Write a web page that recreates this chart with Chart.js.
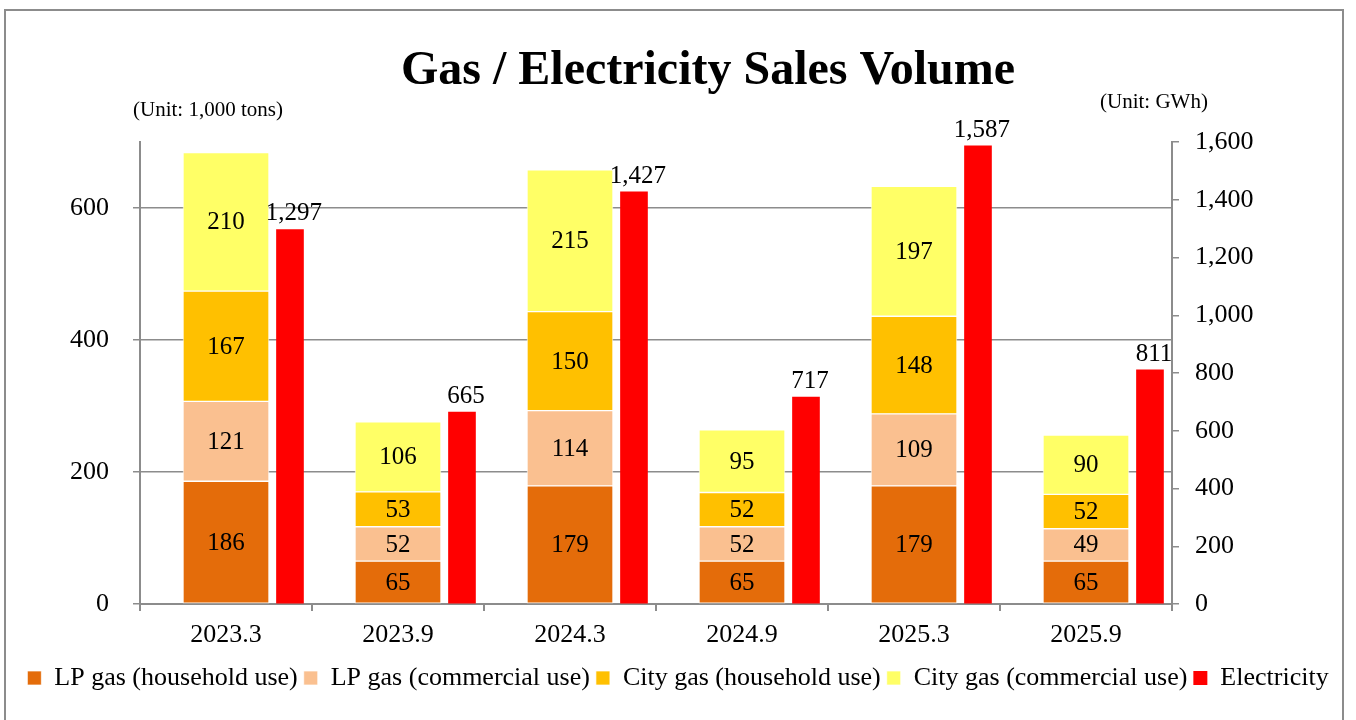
<!DOCTYPE html>
<html>
<head>
<meta charset="utf-8">
<script src="https://cdn.jsdelivr.net/npm/chart.js@4.4.1/dist/chart.umd.min.js"></script>
<style>
  html, body { margin: 0; padding: 0; background: #fff; overflow: hidden; }
  canvas { display: block; }
</style>
</head>
<body>
<canvas id="salesChart" width="1356" height="720"></canvas>
<script>
// Data
const periods = ["2023.3", "2023.9", "2024.3", "2024.9", "2025.3", "2025.9"];
const lpHousehold = [186, 65, 179, 65, 179, 65];
const lpCommercial = [121, 52, 114, 52, 109, 49];
const cityHousehold = [167, 53, 150, 52, 148, 52];
const cityCommercial = [210, 106, 215, 95, 197, 90];
const electricity = [1297, 665, 1427, 717, 1587, 811];
const leftTicks = [0, 200, 400, 600];
const rightTicks = [0, 200, 400, 600, 800, 1000, 1200, 1400, 1600];

const serif = "'Liberation Serif', 'Times New Roman', serif";
const gray = "#8c8c8c";

// electricity bars sit to the right of the gas stack
const elecShift = chart => {
  const x = chart.scales.x;
  return (x.right - x.left) / periods.length * 0.372;
};

const framePlugin = {
  id: "frame",
  beforeDraw(chart) {
    const { ctx } = chart;
    ctx.save();
    ctx.fillStyle = "#fff";
    ctx.fillRect(0, 0, chart.width, chart.height);
    ctx.strokeStyle = gray;
    ctx.lineWidth = 2;
    ctx.strokeRect(5, 10, 1338, 720);
    ctx.restore();
  },
  afterDraw(chart) {
    const { ctx } = chart;
    ctx.save();
    ctx.fillStyle = "#000";
    ctx.textAlign = "center";
    ctx.textBaseline = "alphabetic";
    ctx.font = "bold 48px " + serif;
    ctx.fillText("Gas / Electricity Sales Volume", 708, 84);
    ctx.font = "21px " + serif;
    ctx.textAlign = "left";
    ctx.fillText("(Unit: 1,000 tons)", 133, 116);
    ctx.fillText("(Unit: GWh)", 1100, 108);
    ctx.restore();
  }
};

const shiftPlugin = {
  id: "shiftElec",
  beforeDatasetDraw(chart, args) {
    if (args.meta.yAxisID !== "y1") return;
    chart.ctx.save();
    chart.ctx.translate(elecShift(chart), 0);
  },
  afterDatasetDraw(chart, args) {
    if (args.meta.yAxisID !== "y1") return;
    chart.ctx.restore();
  }
};

const labelPlugin = {
  id: "valueLabels",
  afterDatasetsDraw(chart) {
    const { ctx } = chart;
    ctx.save();
    ctx.fillStyle = "#000";
    ctx.textAlign = "center";
    chart.data.datasets.forEach((ds, i) => {
      const meta = chart.getDatasetMeta(i);
      meta.data.forEach((bar, j) => {
        const v = ds.data[j];
        ctx.font = "25px " + serif;
        if (meta.yAxisID === "y1") {
          ctx.textBaseline = "alphabetic";
          ctx.fillText(v.toLocaleString("en-US"), bar.x + elecShift(chart) + 4, bar.y - 9);
        } else {
          ctx.textBaseline = "middle";
          ctx.fillText(String(v), bar.x, (bar.y + bar.base) / 2 + 1);
        }
      });
    });
    ctx.restore();
  }
};

const gasBar = (label, data, color) => ({
  label, data,
  backgroundColor: color,
  borderColor: "rgba(255,255,255,0.7)",
  borderWidth: 1,
  borderSkipped: false,
  stack: "gas",
  grouped: false,
  barThickness: 86,
  xAxisID: "x",
  yAxisID: "y"
});

new Chart(document.getElementById("salesChart"), {
  type: "bar",
  data: {
    labels: periods,
    datasets: [
      gasBar("LP gas (household use)", lpHousehold, "#E46C0A"),
      gasBar("LP gas (commercial use)", lpCommercial, "#FAC090"),
      gasBar("City gas (household use)", cityHousehold, "#FFC000"),
      gasBar("City gas (commercial use)", cityCommercial, "#FFFF66"),
      {
        label: "Electricity",
        data: electricity,
        backgroundColor: "#FF0000",
        borderWidth: 0,
        grouped: false,
        barThickness: 27,
        xAxisID: "x",
        yAxisID: "y1"
      }
    ]
  },
  options: {
    responsive: false,
    animation: false,
    devicePixelRatio: 1,
    layout: { padding: { top: 142, bottom: 19, left: 0, right: 0 } },
    plugins: {
      title: { display: false },
      tooltip: { enabled: false },
      legend: {
        position: "bottom",
        labels: {
          color: "#000",
          font: { family: serif, size: 26 },
          boxWidth: 14,
          boxHeight: 14,
          padding: 6
        }
      }
    },
    scales: {
      x: {
        stacked: true,
        offset: true,
        grid: { offset: true, drawOnChartArea: false, drawTicks: true, tickLength: 7, color: gray, lineWidth: 2 },
        border: { color: gray, width: 2 },
        ticks: { color: "#000", font: { family: serif, size: 26 }, padding: 9 },
        afterFit: s => { s.height = 55; }
      },
      y: {
        position: "left",
        stacked: true,
        min: 0,
        max: 700,
        afterBuildTicks: s => { s.ticks = leftTicks.map(v => ({ value: v })); },
        grid: { color: gray, lineWidth: 1.5, tickLength: 7 },
        border: { color: gray, width: 2 },
        ticks: { color: "#000", font: { family: serif, size: 26 }, padding: 24 },
        afterFit: s => { s.width = 140; }
      },
      y1: {
        position: "right",
        min: 0,
        max: 1600,
        afterBuildTicks: s => { s.ticks = rightTicks.map(v => ({ value: v })); },
        grid: { drawOnChartArea: false, color: gray, lineWidth: 1.5, tickLength: 7 },
        border: { color: gray, width: 2 },
        ticks: {
          color: "#000",
          font: { family: serif, size: 26 },
          padding: 16,
          callback: v => v.toLocaleString("en-US")
        },
        afterFit: s => { s.width = 184; }
      }
    }
  },
  plugins: [framePlugin, shiftPlugin, labelPlugin]
});
</script>
</body>
</html>
